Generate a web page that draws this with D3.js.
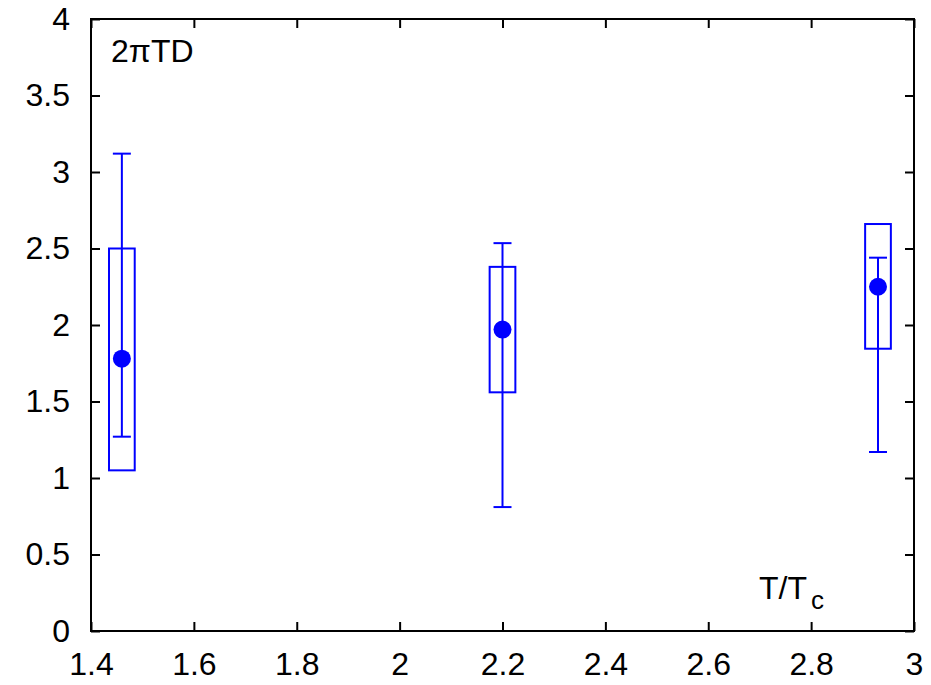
<!DOCTYPE html>
<html>
<head>
<meta charset="utf-8">
<script src="https://cdnjs.cloudflare.com/ajax/libs/d3/7.8.5/d3.min.js"></script>
<style>
  body { margin: 0; background: #fff; }
  text { font-family: "Liberation Sans", Arial, sans-serif; }
</style>
</head>
<body>
<div id="vis"></div>
<script>
const FRAME_WIDTH = 931;
const FRAME_HEIGHT = 685;
const MARGINS = {left: 91, right: 17, top: 19, bottom: 54};

// data
const tValues = [1.46, 2.20, 2.93];
const centers = [1.78, 1.97, 2.25];
const errLow = [1.27, 0.81, 1.17];
const errHigh = [3.12, 2.535, 2.44];
const boxLow = [1.05, 1.56, 1.845];
const boxHigh = [2.50, 2.38, 2.66];
const xTicks = [1.4, 1.6, 1.8, 2, 2.2, 2.4, 2.6, 2.8, 3];
const yTicks = [0, 0.5, 1, 1.5, 2, 2.5, 3, 3.5, 4];

const points = tValues.map((t, i) => ({
  t: t, c: centers[i], lo: errLow[i], hi: errHigh[i], bLo: boxLow[i], bHi: boxHigh[i]
}));

const BLUE = "#0000ff";
const BOX_HALF = 0.025;   // half width of box in T/Tc units
const CAP_HALF = 9;       // px
const FONT = 32;

const svg = d3.select("#vis")
  .append("svg")
    .attr("width", FRAME_WIDTH)
    .attr("height", FRAME_HEIGHT);

const xScale = d3.scaleLinear()
  .domain([1.4, 3])
  .range([MARGINS.left, FRAME_WIDTH - MARGINS.right]);

const yScale = d3.scaleLinear()
  .domain([0, 4])
  .range([FRAME_HEIGHT - MARGINS.bottom, MARGINS.top]);

const fmt = d => String(d);

// axes with inward ticks on all four sides
svg.append("g")
  .attr("transform", "translate(0," + yScale(0) + ")")
  .call(d3.axisBottom(xScale).tickValues(xTicks).tickSize(-9).tickPadding(21).tickFormat(fmt));
svg.append("g")
  .attr("transform", "translate(0," + yScale(4) + ")")
  .call(d3.axisTop(xScale).tickValues(xTicks).tickSize(-9).tickFormat(""));
svg.append("g")
  .attr("transform", "translate(" + xScale(1.4) + ",0)")
  .call(d3.axisLeft(yScale).tickValues(yTicks).tickSize(-9).tickPadding(21).tickFormat(fmt));
svg.append("g")
  .attr("transform", "translate(" + xScale(3) + ",0)")
  .call(d3.axisRight(yScale).tickValues(yTicks).tickSize(-9).tickFormat(""));

svg.selectAll(".domain").remove();
svg.selectAll(".tick line").attr("stroke", "#000").attr("stroke-width", 2);
svg.selectAll(".tick text").attr("font-size", FONT).attr("fill", "#000")
  .attr("font-family", "'Liberation Sans', Arial, sans-serif");

svg.append("rect")
  .attr("x", xScale(1.4))
  .attr("y", yScale(4))
  .attr("width", xScale(3) - xScale(1.4))
  .attr("height", yScale(0) - yScale(4))
  .attr("fill", "none")
  .attr("stroke", "#000")
  .attr("stroke-width", 2);

// boxes
svg.selectAll(".box")
  .data(points)
  .enter()
  .append("rect")
    .attr("x", d => xScale(d.t - BOX_HALF))
    .attr("y", d => yScale(d.bHi))
    .attr("width", d => xScale(d.t + BOX_HALF) - xScale(d.t - BOX_HALF))
    .attr("height", d => yScale(d.bLo) - yScale(d.bHi))
    .attr("fill", "none")
    .attr("stroke", BLUE)
    .attr("stroke-width", 2);

// error bars
svg.selectAll(".err")
  .data(points)
  .enter()
  .append("line")
    .attr("x1", d => xScale(d.t))
    .attr("x2", d => xScale(d.t))
    .attr("y1", d => yScale(d.lo))
    .attr("y2", d => yScale(d.hi))
    .attr("stroke", BLUE)
    .attr("stroke-width", 2);

["lo", "hi"].forEach(k => {
  svg.selectAll(".cap-" + k)
    .data(points)
    .enter()
    .append("line")
      .attr("x1", d => xScale(d.t) - CAP_HALF)
      .attr("x2", d => xScale(d.t) + CAP_HALF)
      .attr("y1", d => yScale(d[k]))
      .attr("y2", d => yScale(d[k]))
      .attr("stroke", BLUE)
      .attr("stroke-width", 2);
});

// central values
svg.selectAll(".dot")
  .data(points)
  .enter()
  .append("circle")
    .attr("cx", d => xScale(d.t))
    .attr("cy", d => yScale(d.c))
    .attr("r", 9)
    .attr("fill", BLUE);

// labels
svg.append("text")
  .attr("x", 111)
  .attr("y", 62)
  .attr("font-size", FONT)
  .text("2\u03C0TD");

const xl = svg.append("text")
  .attr("x", 759)
  .attr("y", 599)
  .attr("font-size", FONT);
xl.append("tspan").text("T/T");
xl.append("tspan").attr("dx", 4).attr("dy", 10).attr("font-size", 26).text("c");
</script>
</body>
</html>
